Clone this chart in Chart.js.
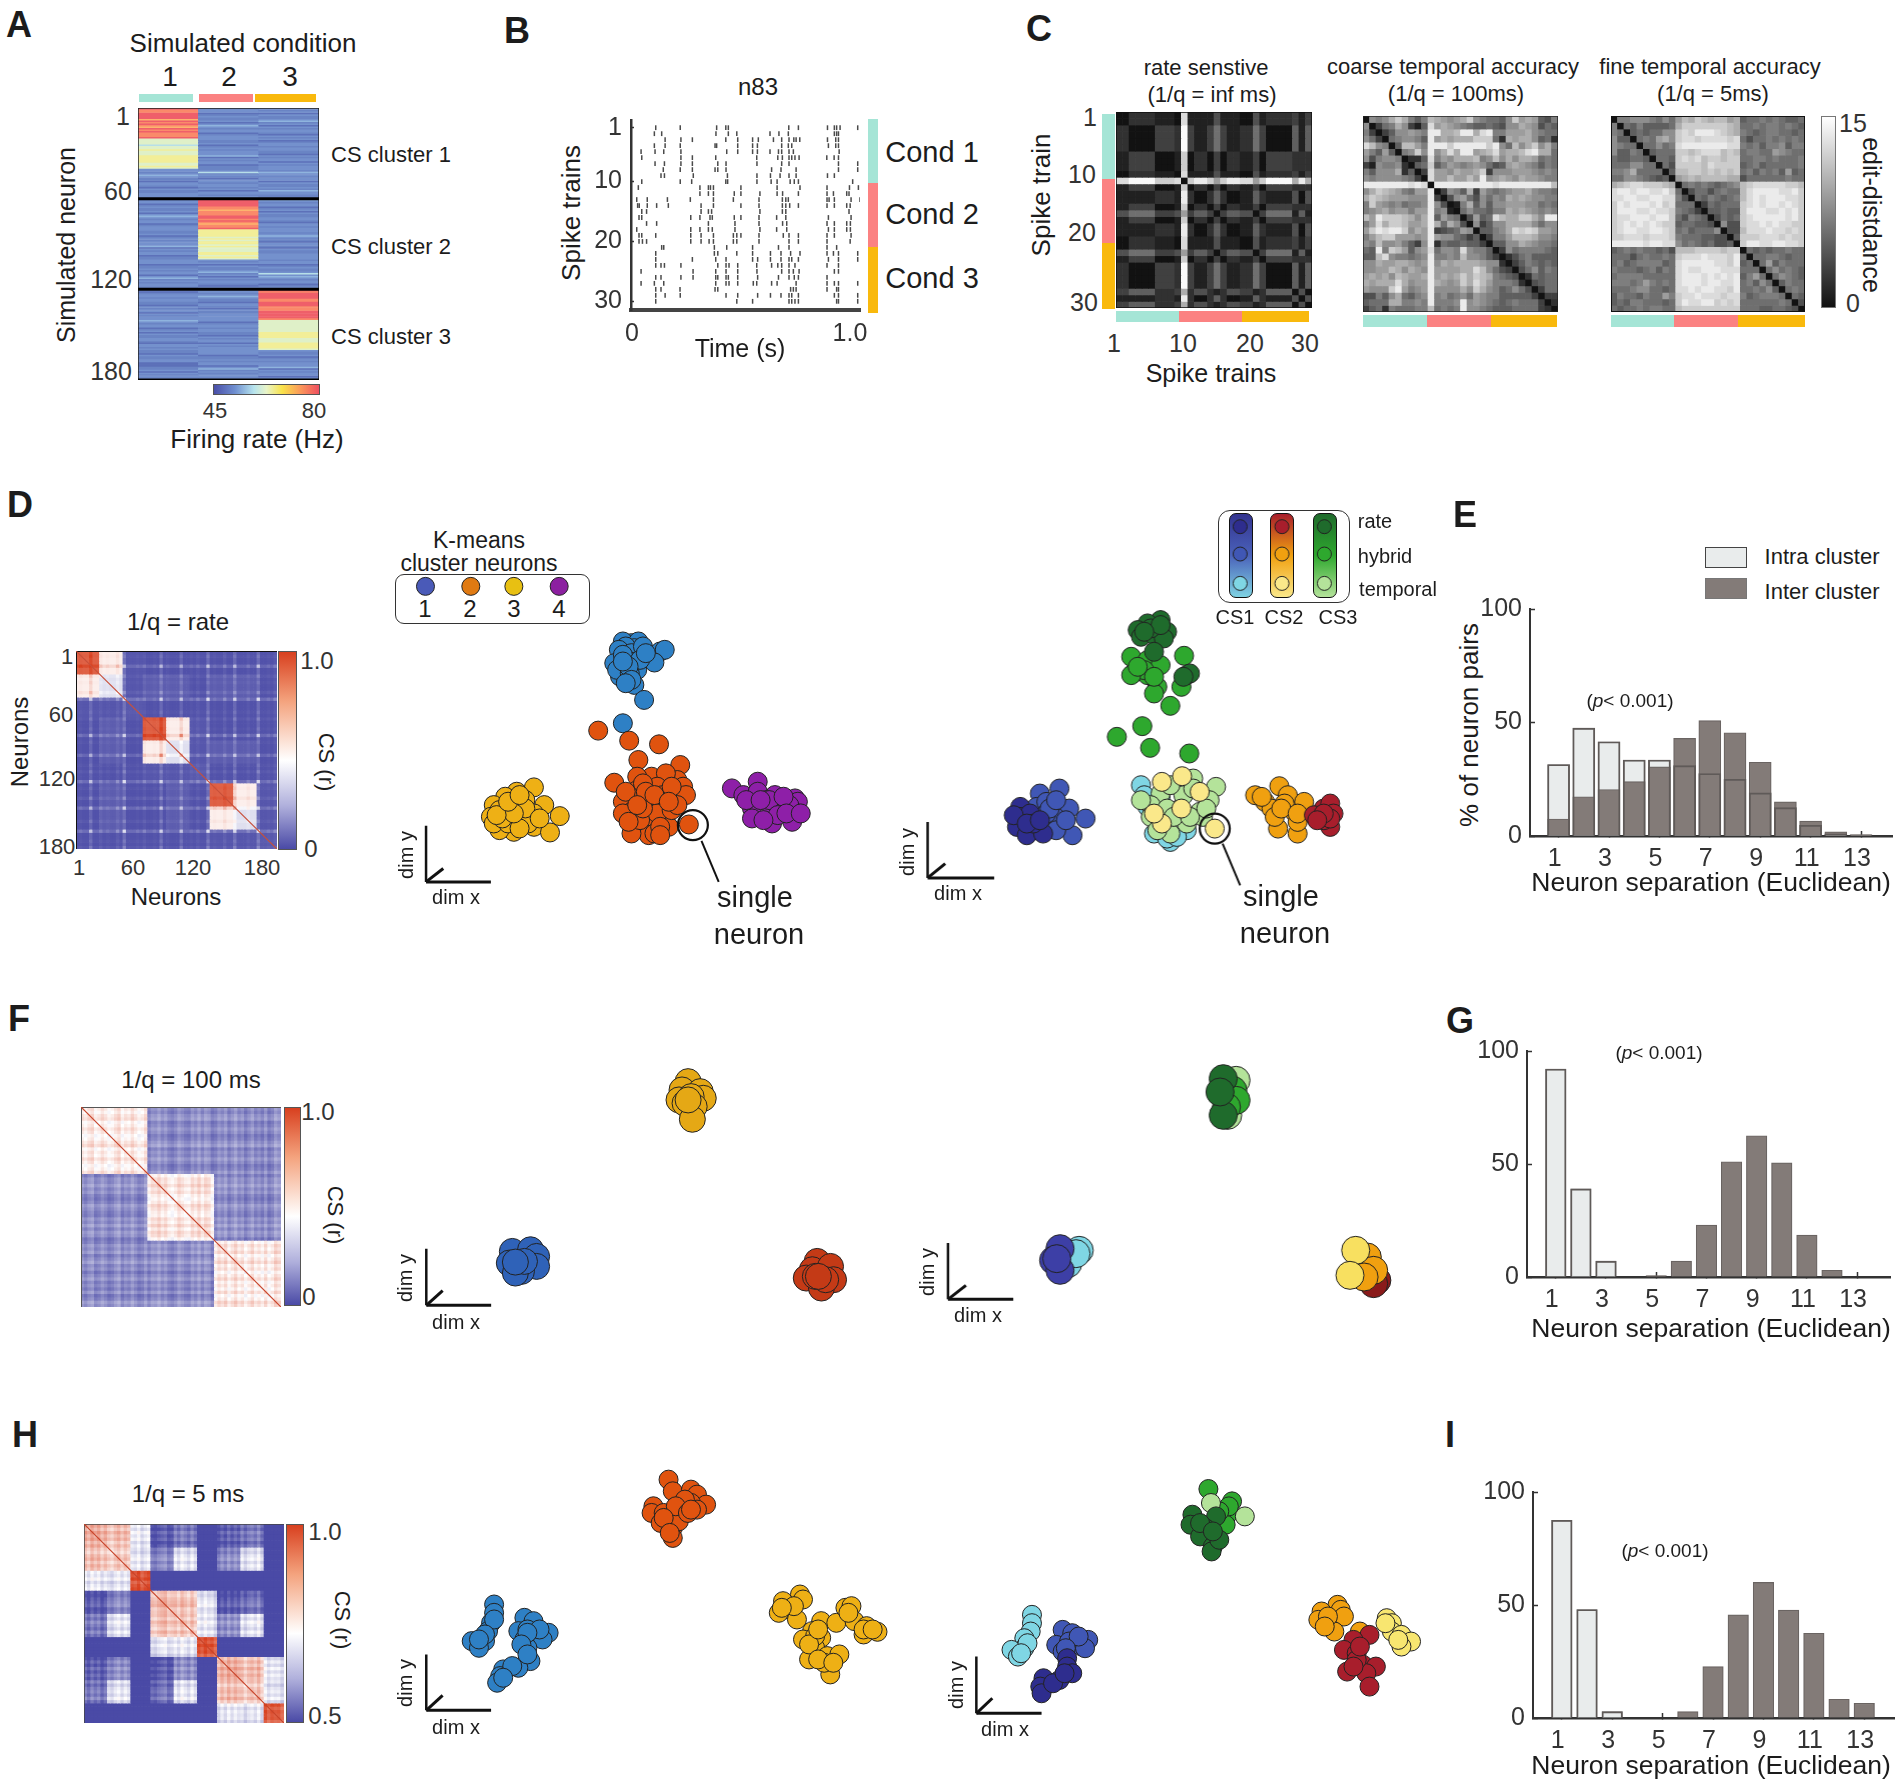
<!DOCTYPE html>
<html>
<head>
<meta charset="utf-8">
<title>Spike train clustering</title>
<script src="https://cdn.jsdelivr.net/npm/chart.js"></script>
<style>
  html, body { margin: 0; background: #fff; }
  #page { position: relative; width: 1902px; height: 1789px; overflow: hidden; font-family: "Liberation Sans", Arial, sans-serif; }
  #page canvas { position: absolute; }
  .lbl { position: absolute; white-space: nowrap; line-height: 1; color: #1c1c1c; }
  .box { position: absolute; box-sizing: border-box; }
</style>
</head>
<body>
<div id="page"></div>
<script>
// tick labels
const neuronTicks = ['1', '60', '120', '180'];
const trainTicks = [1, 10, 20, 30];
const separationTicks = [1, 3, 5, 7, 9, 11, 13];
const pctTicks = [0, 50, 100];
const condColors = ['#a5e5d6', '#fb8282', '#f9b90d'];

// panel A, firing rate level per neuron (0 = low .. 9 = high), one string per condition
const heatPalette = ['#5d71b9', '#6a84c4', '#7491cd', '#8fb4de', '#b7dfe8', '#dff0c8', '#f2ee98', '#fcb46e', '#fa8a6a', '#ef5f6a'];
const heatCond1 = ['98899997989879898889', '55554556555666665565', '22123211022102112222',
  '12201211202321220122', '21120121222302122011', '22201121220231212212',
  '20122122110212202122', '32122012021122102212', '11021122000112021211'].join('');
const heatCond2 = ['12201211202321220122', '21120121222302122011', '12412102212212022122',
  '99999887888998987889', '66666565665655566565', '21202112312021221021',
  '22123211022102112222', '20122122110212202122', '22201121220231212212'].join('');
const heatCond3 = ['21202112312021221021', '20122122110212202122', '21322122021121322112',
  '32122012021122102212', '22123211022102112222', '12201211242321220122',
  '98999988999888999998', '55555555666655566665', '21120121222302122011'].join('');

// panel B, spike times (ms) of neuron n83 for the 30 trains
const spikeTimes = [
  [108,215,374,414,425,689,731,858,888,898,913,990],
  [102,134,371,425,462,607,646,687,888,898,906],
  [149,218,268,414,466,531,556,622,658,690,711,721,737,858,894,906],
  [102,149,215,367,374,466,531,552,658,687,702,862,894,906],
  [44,105,143,218,418,466,531,552,607,644,658,690,709,909],
  [47,218,268,370,549,641,661,690,702,716,734,855,887,906],
  [105,146,218,268,379,415,550,658,690,906,990],
  [141,215,268,367,379,415,614,655,721,906,990],
  [131,146,272,421,550,609,651,690,721,858,888],
  [47,215,265,414,422,550,612,638,695,713,731,968],
  [32,301,338,347,360,480,638,738,856,954,993],
  [301,338,360,451,480,563,638,662,731,856,884,942,952],
  [25,71,159,259,360,447,559,661,676,687,856,865,888,961,1000],
  [29,36,71,112,163,306,360,480,559,661,676,693,731,856,888,942,957],
  [47,68,306,338,352,563,661,676,952],
  [35,47,261,301,345,355,451,480,559,636,676,862,961],
  [68,112,338,454,559,662,680,856,888,942,958],
  [25,261,301,338,355,454,563,636,680,862,888,942,958],
  [35,47,108,261,306,360,447,462,480,559,665,690,731,856,888,961],
  [35,50,68,261,306,341,360,447,462,559,690,731,856,957],
  [134,143,364,418,531,644,690,856,898],
  [108,364,379,462,531,609,655,697,738,856,884,906,990],
  [108,268,370,415,531,553,609,655,690,702,731,862,906,990],
  [108,131,146,218,379,415,428,466,549,614,641,658,690,716,856,906],
  [44,271,370,415,466,550,658,690,709,734,888,906],
  [108,131,218,271,370,379,415,425,466,553,644,690,713,731,856],
  [44,102,143,370,415,428,466,534,549,614,638,721,856,888,906,990],
  [108,131,214,367,379,697,709,721,856,898,906],
  [108,149,215,415,466,553,609,655,690,702,731,888,906,990],
  [108,462,531,690,702,716,731,898,906,990]
];

// panel C, spike count of each train; rate sensitive distance is the count difference
const trainCounts = [2,2,0,0,0,0,3,3,3,2,15,3,1,1,3,6,3,1,1,2,2,6,3,0,0,0,0,5,1,5];
// panel C, edit distance read per cell (hex, 0..15)
const editCoarse = [
  '0878a ca757 ba989 ac876 658c9 a9547',
  '80367 a8315 d9a98 76556 5488a 98465',
  '73035 88987 eeaab eeade 77999 a8766',
  '86306 78875 e9a9a aaccc 62a9a a8562',
  'db870 5bb97 eeece eeeec e86b8 ac8a7',
  '97595 078c8 e8ada ee9ab d9aab deaa6',
  '84788 70225 d798a aab78 b8a8a a9676',
  '31877 82056 c5798 78986 459a9 87576',
  '75888 a2503 d998a 99ac3 88899 98787',
  '87888 87630 d99b9 9b9e8 9a98a 99877',
  'eeeee eeded 0eeee eeeee deeee eeeeb',
  '8acba 97699 e0387 5a397 67899 a8776',
  'acba9 99888 e3048 96486 87a9a 98877',
  '7c987 86778 e8401 7a585 88999 88676',
  '789a8 99799 e7810 68665 77a9a 98787',
  'b9ecc cba8a e5976 04956 dbaac ca8ee',
  '79dac cb99a ea6a8 40835 88aaa a8688',
  '9cede ec8a9 e3456 98055 78adc dc998',
  '79bcc 99989 e9886 53503 779bb ba887',
  '87b88 97538 e2655 65530 5588a 98776',
  '65e7c b9589 d6887 d8775 03867 77765',
  '55bd8 77678 e7787 b8875 30246 75555',
  '88a99 aa989 e8a9a aaa98 82035 76565',
  '8899b a8a98 e9999 aadb8 64304 68576',
  '9a9a8 ba99a e9a9a cacba 76540 26566',
  'a9aaa da899 ea989 cadb9 77762 04566',
  '9888c e9789 e8888 a8ca8 75686 40366',
  '44758 a6578 e7867 86987 75555 53033',
  '5666a a7787 e7778 e8987 65676 66302',
  '35627 66677 b6767 e8876 55566 66320'
];
const editFine = [
  '07788 87686 9bacb abb9a 56676 76556',
  '70657 55556 acccc cccba 66767 76765',
  '76056 56688 cdcee edcba 76567 76656',
  '85506 769a8 cddcd dddcd 64667 67676',
  '87660 66867 deeee eeedd 76757 78577',
  '85576 05666 ccbcd ddbcb 67766 98766',
  '65566 50665 cdcdb ccbcc 66776 76667',
  '66688 66064 ccccb dcccc 56756 66667',
  '778a6 66605 bbccb cbcbc 67576 75956',
  '66887 65450 9abab bbbaa 46666 66766',
  'abcdd cccba 06767 65678 bcddd ddccb',
  'deede eddec 60466 46766 bdeee eddec',
  'ddeed deedd 74065 76567 bdede eeddc',
  'cedee edecd 66603 65666 cdede ededc',
  'ceeed deddc 76530 55655 ceeed dedec',
  'cddee edeec 64765 04656 cdeee eedec',
  'cdede dedcc 56655 40844 cdded eddcc',
  'cdeed deedc 67566 68044 bddde ddcdc',
  'ccddd cdddc 76665 54405 cccdd dcdcc',
  'eeeee deedd 86765 64450 ceedd eeddc',
  '56767 66564 bbbcc ccbcc 06565 66766',
  '66646 76676 cddde dddce 60667 76566',
  '67567 77756 deeee eddce 56069 57666',
  '76665 67576 dedde eeddd 66606 86765',
  '67777 66666 deeed edede 57960 68765',
  '77767 97676 deeed eedde 67586 05766',
  '66678 86656 ddede eddce 66768 50676',
  '57665 76697 cdded ddcdd 75677 76065',
  '56577 66656 cedde ecdcd 66666 67604',
  '65667 67766 bcccc ccccc 66655 66540'
];

// panels D, F, H, correlation level of neuron sub-blocks
const csBlocksD = [
  [.92,.55,.04,.03,.03,.03,.03,.03,.03],
  [.55,.42,.04,.06,.06,.03,.06,.06,.03],
  [.04,.04,.05,.03,.03,.03,.03,.03,.03],
  [.03,.06,.03,.92,.55,.04,.03,.03,.03],
  [.03,.06,.03,.55,.42,.04,.06,.06,.03],
  [.03,.03,.03,.04,.04,.05,.03,.03,.03],
  [.03,.06,.03,.03,.06,.03,.92,.55,.04],
  [.03,.06,.03,.03,.06,.03,.55,.42,.04],
  [.03,.03,.03,.03,.03,.03,.04,.04,.05]
];
const csBlocksF = [
  [.56,.19,.19],
  [.19,.56,.19],
  [.19,.19,.56]
];
const csBlocksH = [
  [.70,.66,.42,.04,.12,0,.04,.12,0],
  [.66,.64,.42,.18,.42,0,.18,.42,0],
  [.42,.42,.93,0,0,0,0,0,0],
  [.04,.18,0,.70,.66,.42,.04,.12,0],
  [.12,.42,0,.66,.64,.42,.18,.42,0],
  [0,0,0,.42,.42,.93,0,0,0],
  [.04,.18,0,.04,.18,0,.70,.66,.42],
  [.12,.42,0,.12,.42,0,.66,.64,.42],
  [0,0,0,0,0,0,.42,.42,.93]
];
// streak strength per 3 neuron bin
const csStreakD = '010070020100309000102001080100070010200901003008000200900102';
const csStreakF = '526813740269153840271659472038521749386027481593604825170396';
const csStreakH = '729481630582736491582046813729518273946017293846057391826450';

// scatter positions, dim x / dim y in arbitrary units
const dRateBlue = [[1100,490],[1085,485],[1112,485],[1105,505],[1090,500],[1078,510],[1100,520],[1120,500],[1150,515],[1158,510],[1140,548],[1070,550],[1098,545],[1110,570],[1080,590],[1105,615],[1122,660],[1075,570],[1085,525],[1115,540],[1097,580],[1095,560],[1085,545],[1125,520],[1100,600],[1090,610],[1085,730]];
const dRateOrange = [[1042,752],[1096,782],[1148,793],[1112,840],[1185,855],[1070,908],[1135,890],[1110,890],[1180,900],[1190,920],[1160,880],[1145,920],[1110,930],[1085,965],[1125,960],[1150,975],[1180,950],[1195,945],[1100,995],[1130,1000],[1160,1010],[1105,1040],[1135,1035],[1165,1040],[1130,1065],[1100,1060],[1085,1000],[1155,945],[1120,910],[1145,1000],[1115,1020],[1170,990],[1140,1060],[1120,985],[1150,1040],[1090,935],[1170,920],[1125,935],[1095,1025],[1180,975],[1150,1065],[1110,975],[1140,945],[1165,965],[1200,1033]];
const dRateYellow = [[930,922],[900,935],[880,950],[860,975],[890,970],[915,960],[948,975],[855,1010],[880,1000],[905,990],[975,1008],[930,1040],[958,1057],[895,1055],[870,1050],[860,1030],[900,1020],[930,1000],[885,1030],[920,1030],[870,990],[875,1015],[905,1045],[915,985],[895,1000],[940,1015],[865,1005],[885,965],[905,945]];
const dRatePurple = [[1275,925],[1320,905],[1295,945],[1320,935],[1350,945],[1385,955],[1390,965],[1335,960],[1360,975],[1310,985],[1345,985],[1380,990],[1310,1015],[1345,1030],[1380,1025],[1340,960],[1375,975],[1300,960],[1355,1005],[1325,960],[1365,950],[1370,1000],[1330,1020],[1395,1000]];

const dCs3Green = [[385,530],[410,540],[430,555],[466,527],[388,580],[410,585],[425,620],[462,620],[420,640],[445,677],[402,738],[363,770],[414,803],[474,820],[405,570],[385,585],[395,560],[420,590]];
const dCs3Dark = [[430,420],[410,430],[395,450],[425,450],[440,455],[400,470],[420,465],[435,475],[420,515],[470,585],[475,580],[465,590],[415,445],[430,435],[405,455]];
const dCs1Navy = [[215,980],[215,1010],[210,1040],[230,1000],[240,1050],[225,1065],[250,1060],[235,1030],[205,1005],[225,1030],[245,1020]];
const dCs1Blue = [[275,925],[245,940],[240,980],[255,965],[290,985],[268,1010],[315,1015],[295,1065],[270,1050],[255,1000],[260,985],[285,1020],[270,960]];
const dTempCyan = [[400,915],[420,1060],[445,1085],[470,1050],[430,950],[460,985],[410,980],[405,945],[440,1075],[455,1070]];
const dTempGreen = [[480,895],[515,920],[430,940],[465,945],[505,960],[415,975],[440,985],[415,1010],[490,995],[430,1030],[470,1030],[445,1060],[495,1010],[445,915],[480,925],[450,1010],[475,1010],[500,985],[425,1050],[400,960]];
const dTempYellow = [[432,905],[463,888],[490,935],[462,985],[432,1030],[420,1000],[513,1045]];
const dCs2Orange = [[575,945],[612,918],[590,965],[625,945],[600,985],[635,995],[610,1045],[640,1060],[650,965],[605,1010],[640,1025],[585,950],[620,970],[615,985],[640,1000]];
const dCs2Red = [[680,985],[675,1010],[690,1040],[665,1005],[690,970],[680,1020],[695,1000],[690,1015],[680,1000],[670,1020]];

const fRateBlue = [[845,755],[875,750],[885,770],[840,790],[885,800],[860,815],[850,820],[865,785],[850,787]];
const fRateYellow = [[1135,245],[1125,270],[1155,275],[1120,300],[1160,295],[1140,290],[1130,310],[1145,320],[1142,358],[1135,300]];
const fRateRed = [[1348,785],[1340,810],[1370,800],[1330,835],[1375,840],[1355,865],[1345,830],[1362,840],[1350,830]];
const fCs3Pale = [[525,240],[512,345]];
const fCs3Mid = [[520,270],[525,300],[510,320]];
const fCs3Dark = [[505,345],[505,235],[500,275]];
const fCs1Cyan = [[280,750],[262,790],[275,760]];
const fCs1Navy = [[250,745],[240,780],[250,810],[245,775]];
const fCs2Red = [[745,840],[740,850]];
const fCs2Orange = [[730,770],[740,810],[725,830]];
const fCs2Pale = [[712,750],[703,825]];

const hRateOrange = [[1103,240],[1110,275],[1140,270],[1150,285],[1165,315],[1078,320],[1075,340],[1095,340],[1090,370],[1110,385],[1140,310],[1125,340],[1110,415],[1150,330],[1120,365],[1130,300],[1115,320],[1135,340],[1095,355],[1105,400],[1140,330]];
const hRateYellow = [[1320,585],[1292,605],[1325,600],[1300,630],[1285,640],[1315,660],[1355,665],[1380,670],[1395,625],[1405,620],[1410,665],[1430,680],[1448,697],[1425,705],[1340,695],[1325,720],[1355,715],[1345,745],[1335,780],[1365,770],[1385,765],[1370,825],[1360,790],[1310,620],[1290,625],[1345,710],[1335,735],[1350,780],[1375,790],[1425,690],[1440,690],[1400,640],[1350,690]];
const hRateBlue = [[815,615],[815,640],[810,670],[805,695],[800,725],[778,725],[790,745],[865,655],[880,665],[855,695],[880,700],[905,700],[895,720],[865,720],[870,745],[875,785],[855,805],[830,810],[825,830],[820,850],[815,660],[800,705],[790,720],[870,690],[890,690],[870,700],[860,735],[870,765],[845,800],[830,835]];
const hCs3Mid = [[483,268],[520,305],[515,340],[510,375],[515,320],[500,335]];
const hCs3Pale = [[487,310],[540,350]];
const hCs3Dark = [[495,350],[458,345],[455,375],[478,385],[470,410],[490,440],[488,455],[500,420],[470,370],[490,395]];
const hCs1Cyan = [[207,645],[207,670],[205,695],[195,715],[195,745],[175,750],[185,770],[200,730],[190,760]];
const hCs1Blue = [[255,690],[270,700],[245,735],[295,720],[285,740],[265,725],[290,745],[255,755],[280,710],[260,745]];
const hCs1Navy = [[262,775],[262,800],[270,820],[250,840],[225,835],[220,860],[222,880],[240,850],[258,820]];
const hCs2Orange = [[685,615],[660,635],[690,630],[655,660],[695,650],[680,695],[720,695],[670,650],[665,680]];
const hCs2Pale = [[762,655],[770,670],[770,695],[785,705],[800,725],[785,740],[780,720],[760,670]];
const hCs2Red = [[735,705],[710,720],[695,750],[715,760],[725,795],[700,815],[745,800],[730,820],[735,860],[715,780],[720,740],[710,800]];

// panels E, G, I, % of neuron pairs per separation bin
const separationBins = [1,2,3,4,5,6,7,8,9,10,11,12,13,14];
const intraE = [31.5,47.5,41.5,33.5,33.5,31,27.5,25,19,12.5,4.7,1,0.3,0];
const interE = [7.5,17.3,20.5,24,30.5,43,50.8,45.5,32.5,15,6.6,1.8,0.6,0];
const intraG = [92,39,7,0,0,0,0,0,0,0,0,0,0,0];
const interG = [0,0,0,0,0.6,7,23,51,62.5,50.5,18.5,3,0,0];
const intraI = [87.5,48,2.8,0,0,0,0,0,0,0,0,0,0,0];
const interI = [0,0,0,0,0,2.8,22.7,45.6,60,47.7,37.5,8.3,6.5,0];

const blue = '#2e80c5', orange = '#e0530f', gold = '#eeb015', purple = '#8e1fa8';
const navy = '#2e2d8e', midBlue = '#4057b5', cyan = '#7fd6e4';
const darkRed = '#a81e2c', amber = '#f0a010', pale = '#fae88a';
const darkGreen = '#1f6b2c', green = '#2ea82e', paleGreen = '#b4e39a';

Chart.defaults.font.family = '"Liberation Sans", Arial, sans-serif';
Chart.defaults.animation = false;
Chart.defaults.events = [];
Chart.defaults.layout.autoPadding = false;
Chart.defaults.plugins.legend.display = false;
Chart.defaults.plugins.tooltip.enabled = false;

const page = document.getElementById('page');

function label(text, x, y, size, opts) {
  opts = opts || {};
  const el = document.createElement('div');
  el.className = 'lbl';
  if (opts.html) el.innerHTML = text; else el.textContent = text;
  el.style.left = x + 'px';
  el.style.top = y + 'px';
  el.style.fontSize = size + 'px';
  if (opts.bold) el.style.fontWeight = 'bold';
  if (opts.color) el.style.color = opts.color;
  el.style.transform = 'translate(-50%,-50%) rotate(' + (opts.rot || 0) + 'deg)';
  page.appendChild(el);
}

function box(x, y, w, h, css) {
  const el = document.createElement('div');
  el.className = 'box';
  el.style.left = x + 'px';
  el.style.top = y + 'px';
  el.style.width = w + 'px';
  el.style.height = h + 'px';
  Object.assign(el.style, css);
  page.appendChild(el);
}

function addCanvas(x, y, w, h) {
  const c = document.createElement('canvas');
  c.width = w;
  c.height = h;
  c.style.left = x + 'px';
  c.style.top = y + 'px';
  c.style.width = w + 'px';
  c.style.height = h + 'px';
  page.appendChild(c);
  return c;
}

// heat map: one stacked bar dataset per row, coloured cell by cell
function heatChart(x, y, w, h, rowColors, overlays) {
  const rows = rowColors.length, cols = rowColors[0].length;
  const datasets = (overlays || []).map(o => ({
    type: 'scatter', xAxisID: 'x2', yAxisID: 'y2', showLine: true, clip: false,
    data: o.pts.map(p => ({ x: p[0], y: p[1] })),
    borderColor: o.color, borderWidth: o.width, pointRadius: 0, order: 0
  }));
  rowColors.forEach(colors => {
    datasets.push({
      type: 'bar', data: colors.map(() => 1), backgroundColor: colors, grouped: false,
      categoryPercentage: 1, barPercentage: 1, borderWidth: 0, order: 1
    });
  });
  new Chart(addCanvas(x, y, w, h), {
    type: 'bar',
    data: { labels: rowColors[0].map((c, i) => i + 1), datasets: datasets },
    options: {
      responsive: false,
      scales: {
        x: { stacked: true, display: false, offset: true },
        y: { stacked: true, display: false, reverse: true, min: 0, max: rows },
        x2: { type: 'linear', axis: 'x', display: false, offset: false, min: 0, max: cols },
        y2: { type: 'linear', axis: 'y', display: false, reverse: true, min: 0, max: rows }
      }
    }
  });
}

function frame(n, m, color, width) {
  return { pts: [[0, 0], [n, 0], [n, m], [0, m], [0, 0]], color: color, width: width };
}

function mix(a, b, t) {
  const pa = [1, 3, 5].map(i => parseInt(a.substr(i, 2), 16));
  const pb = [1, 3, 5].map(i => parseInt(b.substr(i, 2), 16));
  return 'rgb(' + pa.map((v, i) => Math.round(v + (pb[i] - v) * t)).join(',') + ')';
}

function csColor(v) {
  v = Math.max(0, Math.min(1, v));
  return v < 0.5 ? mix('#4a4aa6', '#ffffff', v / 0.5) : mix('#ffffff', '#d8401f', (v - 0.5) / 0.5);
}

function csCells(blocks, streak, kSum, kProd, center) {
  const n = streak.length, rows = [];
  for (let i = 0; i < n; i++) {
    const row = [];
    for (let j = 0; j < n; j++) {
      const b = blocks[Math.floor(i * blocks.length / n)][Math.floor(j * blocks.length / n)];
      const si = +streak[i], sj = +streak[j];
      row.push(csColor(b === 0 ? 0 : b + kSum * (si + sj - center) + kProd * si * sj));
    }
    rows.push(row);
  }
  return rows;
}

function grayCells(rows) {
  return rows.map(r => r.map(L => {
    const g = Math.round(18 + L / 15 * 232);
    return 'rgb(' + g + ',' + g + ',' + g + ')';
  }));
}

function group(points, color, radius) {
  return { data: points.map(p => ({ x: p[0], y: p[1] })), backgroundColor: color, borderColor: '#222', borderWidth: 1, pointRadius: radius, showLine: false };
}
function ring(point, radius) {
  return { data: [{ x: point[0], y: point[1] }], backgroundColor: 'rgba(0,0,0,0)', borderColor: '#111', borderWidth: 2.2, pointRadius: radius, showLine: false, clip: false };
}
function stroke(points, width) {
  return { data: points.map(p => ({ x: p[0], y: p[1] })), borderColor: '#111', borderWidth: width, pointRadius: 0, showLine: true, borderCapStyle: 'butt' };
}

// the scale keeps the units the positions were read in, later groups are on top
function scatterChart(x, y, w, h, xr, yr, sets) {
  sets.forEach((s, i) => { s.order = sets.length - i; });
  new Chart(addCanvas(x, y, w, h), {
    type: 'scatter',
    data: { datasets: sets },
    options: {
      responsive: false,
      scales: {
        x: { type: 'linear', display: false, min: xr[0], max: xr[1] },
        y: { type: 'linear', display: false, reverse: true, min: yr[0], max: yr[1] }
      }
    }
  });
}

function dimAxes(ox, oy, tx, ty, dx, dy) {
  return [stroke([[ox, ty], [ox, oy]], 2.5), stroke([[ox, oy], [tx, oy]], 3), stroke([[ox, oy], [dx, dy]], 3)];
}

function histChart(x, y, w, h, xMin, xMax, barW, intra, inter) {
  const pts = a => a.map((v, i) => ({ x: separationBins[i], y: v }));
  // top and bottom have to hold half a tick label plus its padding or the plot shrinks
  const left = 74, bottom = 40, top = 30, right = 2;
  new Chart(addCanvas(x - left, y - top, w + left + right, h + top + bottom), {
    type: 'bar',
    data: {
      datasets: [
        { label: 'Intra outline', data: pts(intra), backgroundColor: 'rgba(0,0,0,0)', borderColor: '#5f5a58', borderWidth: 1.2, barThickness: barW, grouped: false, order: 1 },
        { label: 'Inter cluster', data: pts(inter), backgroundColor: '#837b78', borderColor: '#6a6462', borderWidth: 1.2, barThickness: barW, grouped: false, order: 2 },
        { label: 'Intra cluster', data: pts(intra), backgroundColor: '#e9ecec', borderColor: '#8f8f8f', borderWidth: 1.5, barThickness: barW, grouped: false, order: 3 }
      ]
    },
    options: {
      responsive: false,
      layout: { padding: { top: top, right: right } },
      scales: {
        x: {
          type: 'linear', offset: false, min: xMin, max: xMax, afterFit: s => { s.height = bottom; },
          afterBuildTicks: s => { s.ticks = separationTicks.map(v => ({ value: v })); },
          ticks: { color: '#333', font: { size: 25 }, padding: 13, labelOffset: -4, maxRotation: 0, autoSkip: false },
          grid: { offset: false, drawOnChartArea: false, tickLength: -5, color: '#333', tickWidth: 1.5 },
          border: { color: '#333', width: 2.5 }
        },
        y: {
          min: 0, max: 100, afterFit: s => { s.width = left; },
          afterBuildTicks: s => { s.ticks = pctTicks.map(v => ({ value: v })); },
          ticks: { color: '#333', font: { size: 25 }, padding: 13 },
          grid: { drawOnChartArea: false, tickLength: -5, color: '#333', tickWidth: 1.5 },
          border: { color: '#333', width: 2 }
        }
      }
    }
  });
}

// ---- panel A
label('A', 19, 25, 36, { bold: true });
label('Simulated condition', 243, 43, 26);
['1', '2', '3'].forEach((t, i) => label(t, [170, 229, 290][i], 77, 28));
box(139, 94, 54, 8, { background: condColors[0] });
box(199, 94, 54, 8, { background: condColors[1] });
box(255, 94, 61, 8, { background: condColors[2] });
const heatRows = [];
for (let i = 0; i < 180; i++) {
  heatRows.push([heatCond1, heatCond2, heatCond3].map(s => heatPalette[+s[i]]));
}
heatChart(138, 108, 181, 272, heatRows, [
  { pts: [[0, 60], [3, 60]], color: '#000', width: 3 },
  { pts: [[0, 120], [3, 120]], color: '#000', width: 3 },
  { pts: [[0, 180], [3, 180]], color: '#000', width: 3 },
  frame(3, 180, '#222', 1.5)
]);
[[123, 116], [118, 191], [111, 279], [111, 371]].forEach((p, i) => label(neuronTicks[i], p[0], p[1], 25, { color: '#333' }));
label('Simulated neuron', 66, 245, 25, { rot: -90 });
label('CS cluster 1', 391, 155, 22);
label('CS cluster 2', 391, 247, 22);
label('CS cluster 3', 391, 337, 22);
box(213, 384, 107, 11, { border: '1.5px solid #555', background: 'linear-gradient(to right,#4a4fa8,#6f8fd0 20%,#b7e4ee 38%,#e8f4c8 50%,#f9e24a 65%,#fb9a5a 82%,#ef4f60)' });
label('45', 215, 411, 22, { color: '#333' });
label('80', 314, 411, 22, { color: '#333' });
label('Firing rate (Hz)', 257, 439, 26);

// ---- panel B
label('B', 517, 31, 36, { bold: true });
label('n83', 758, 87, 24);
label('Spike trains', 571, 213, 26, { rot: -90 });
box(868, 119, 10, 64, { background: condColors[0] });
box(868, 183, 10, 64, { background: condColors[1] });
box(868, 247, 10, 66, { background: condColors[2] });
label('Cond 1', 932, 152, 29);
label('Cond 2', 932, 214, 29);
label('Cond 3', 932, 278, 29);
new Chart(addCanvas(631 - 70, 120 - 30, 229 + 70 + 4, 190 + 30 + 30), {
  type: 'scatter',
  data: {
    datasets: [{
      data: spikeTimes.flatMap((times, i) => times.map(t => ({ x: t / 1000, y: i + 1 }))),
      pointStyle: 'line', rotation: 90, pointRadius: 2.4, borderColor: '#4a4a4a', borderWidth: 1.5
    }]
  },
  options: {
    responsive: false,
    layout: { padding: { top: 30, right: 4 } },
    scales: {
      x: {
        type: 'linear', min: 0, max: 1, afterFit: s => { s.height = 30; },
        ticks: { display: false }, grid: { display: false },
        border: { color: '#444', width: 4 }
      },
      y: {
        type: 'linear', reverse: true, min: -0.286, max: 31.45, afterFit: s => { s.width = 70; },
        afterBuildTicks: s => { s.ticks = trainTicks.map(v => ({ value: v })); },
        ticks: { color: '#333', font: { size: 25 }, padding: 12 },
        grid: { drawOnChartArea: false, tickLength: -3, color: '#333', tickWidth: 1.5 },
        border: { color: '#333', width: 2.5 }
      }
    }
  }
});
label('0', 632, 332, 25, { color: '#333' });
label('1.0', 850, 332, 25, { color: '#333' });
label('Time (s)', 740, 348, 25);

// ---- panel C
label('C', 1039, 29, 36, { bold: true });
label('rate senstive', 1206, 68, 22);
label('(1/q = inf ms)', 1212, 95, 22);
label('coarse temporal accuracy', 1453, 67, 22);
label('(1/q = 100ms)', 1456, 94, 22);
label('fine temporal accuracy', 1710, 67, 22);
label('(1/q = 5ms)', 1713, 94, 22);
const editRate = trainCounts.map(a => trainCounts.map(b => Math.abs(a - b)));
const hexRows = rows => rows.map(s => s.replace(/ /g, '').split('').map(c => parseInt(c, 16)));
box(1102, 114, 13, 65, { background: condColors[0] });
box(1102, 179, 13, 64, { background: condColors[1] });
box(1102, 243, 13, 66, { background: condColors[2] });
heatChart(1116, 112, 196, 196, grayCells(editRate), [frame(30, 30, '#111', 1.5)]);
heatChart(1363, 116, 195, 196, grayCells(hexRows(editCoarse)), [frame(30, 30, '#222', 1.5)]);
heatChart(1611, 116, 194, 196, grayCells(hexRows(editFine)), [frame(30, 30, '#111', 2)]);
[[1116, 311, 1179, 1242, 1309], [1363, 315, 1427, 1491, 1557], [1611, 315, 1674, 1738, 1805]].forEach(b => {
  const bh = b[1] === 311 ? 11 : 12;
  box(b[0], b[1], b[2] - b[0], bh, { background: condColors[0] });
  box(b[2], b[1], b[3] - b[2], bh, { background: condColors[1] });
  box(b[3], b[1], b[4] - b[3], bh, { background: condColors[2] });
});
[[1090, 117], [1082, 174], [1082, 232], [1084, 302]].forEach((p, i) => label(String(trainTicks[i]), p[0], p[1], 25, { color: '#333' }));
[1114, 1183, 1250, 1305].forEach((x, i) => label(String(trainTicks[i]), x, 343, 25, { color: '#333' }));
label('Spike train', 1041, 195, 26, { rot: -90 });
label('Spike trains', 1211, 373, 25);
box(1821, 116, 15, 192, { border: '1px solid #777', background: 'linear-gradient(to bottom,#fff,#111)' });
label('15', 1853, 123, 25, { color: '#333' });
label('0', 1853, 303, 25, { color: '#333' });
label('edit-distdance', 1871, 215, 25, { rot: 90 });

const csGradient = 'linear-gradient(to bottom,#d8401f,#f4a37e 25%,#ffffff 55%,#b0b0dc 78%,#4a4aa6)';

// ---- panel D
label('D', 20, 505, 36, { bold: true });
label('1/q = rate', 178, 622, 24);
heatChart(76, 651, 201, 198, csCells(csBlocksD, csStreakD, 0.008, 0.003, 1), [
  { pts: [[0, 0], [180, 180]], color: '#c8503a', width: 1.2 },
  frame(180, 180, '#111', 2)
]);
box(278, 651, 19, 199, { border: '1px solid #555', background: csGradient });
label('1.0', 317, 661, 24, { color: '#333' });
label('0', 311, 849, 24, { color: '#333' });
label('CS (r)', 326, 762, 22, { rot: 90 });
[[67, 657], [61, 715], [57, 779], [57, 847]].forEach((p, i) => label(neuronTicks[i], p[0], p[1], 22, { color: '#333' }));
[79, 133, 193, 262].forEach((x, i) => label(neuronTicks[i], x, 868, 22, { color: '#333' }));
label('Neurons', 176, 897, 24);
label('Neurons', 20, 742, 24, { rot: -90 });

label('K-means', 479, 540, 23);
label('cluster neurons', 479, 563, 23);
box(395, 574, 195, 50, { border: '1.5px solid #333', borderRadius: '9px' });
[[425, '1'], [470, '2'], [514, '3'], [559, '4']].forEach(d => label(d[1], d[0], 609, 24));
scatterChart(379, 563, 482, 384, [660, 1500], [250, 1400], [
  ...dimAxes(742, 1205, 855, 1037, 772, 1165),
  group(dRateBlue, blue, 9.5),
  group(dRateOrange, orange, 9.5),
  group(dRateYellow, gold, 9.5),
  group(dRatePurple, purple, 9.5),
  group([[741, 320]], '#4a5ab8', 9),
  group([[820, 320]], '#e07a12', 9),
  group([[895, 320]], '#e8c012', 9),
  group([[974, 320]], '#8c20a0', 9),
  stroke([[1222, 1082], [1252, 1205]], 2),
  ring([1207, 1035], 15)
]);
label('dim y', 406, 855, 20, { rot: -90 });
label('dim x', 456, 897, 20);
label('single', 755, 897, 29);
label('neuron', 759, 934, 29);

box(1218, 510, 132, 93, { border: '1.5px solid #333', borderRadius: '12px' });
box(1229, 513, 24, 85, { border: '1.5px solid #111', borderRadius: '7px', background: 'linear-gradient(to bottom,#33338f,#4a62ba 50%,#7fd2e2)' });
box(1270, 513, 24, 85, { border: '1.5px solid #111', borderRadius: '7px', background: 'linear-gradient(to bottom,#a81e2c,#f0a010 50%,#fae88a)' });
box(1313, 513, 24, 85, { border: '1.5px solid #111', borderRadius: '7px', background: 'linear-gradient(to bottom,#1f6b2c,#2ea82e 50%,#b4e39a)' });
scatterChart(880, 500, 534.6, 447, [0, 820], [60, 1400], [
  ...dimAxes(73, 1193, 175, 1025, 100, 1150),
  group(dCs3Green, green, 9.5),
  group(dCs3Dark, darkGreen, 9.5),
  group(dCs1Blue, midBlue, 9.5),
  group(dCs1Navy, navy, 9.5),
  group(dTempCyan, cyan, 9.5),
  group(dTempGreen, paleGreen, 9.5),
  group(dTempYellow, pale, 9.5),
  group(dCs2Orange, amber, 9.5),
  group(dCs2Red, darkRed, 9.5),
  group([[552, 140]], navy, 7), group([[552, 222]], midBlue, 7), group([[552, 310]], cyan, 7),
  group([[616, 140]], darkRed, 7), group([[616, 222]], amber, 7), group([[616, 310]], pale, 7),
  group([[681, 140]], darkGreen, 7), group([[681, 222]], green, 7), group([[681, 310]], paleGreen, 7),
  stroke([[525, 1090], [552, 1215]], 2),
  ring([513, 1045], 15)
]);
label('rate', 1375, 521, 20);
label('hybrid', 1385, 556, 20);
label('temporal', 1398, 589, 20);
label('CS1', 1235, 617, 20);
label('CS2', 1284, 617, 20);
label('CS3', 1338, 617, 20);
label('dim y', 907, 852, 20, { rot: -90 });
label('dim x', 958, 893, 20);
label('single', 1281, 896, 29);
label('neuron', 1285, 933, 29);

// ---- panel E
label('E', 1465, 515, 36, { bold: true });
box(1705, 547, 42, 21, { border: '1.5px solid #444', background: '#e9ecec' });
box(1705, 578, 42, 21, { border: '1.5px solid #777', background: '#837b78' });
label('Intra cluster', 1822, 557, 22);
label('Inter cluster', 1822, 592, 22);
label('% of neuron pairs', 1469, 725, 26, { rot: -90 });
histChart(1530, 609, 362, 227, -0.135, 14.23, 22, intraE, interE);
label('(<i>p</i>&lt; 0.001)', 1630, 700, 19, { html: true });
label('Neuron separation (Euclidean)', 1711, 882, 26.5);

// ---- panel F
label('F', 19, 1019, 36, { bold: true });
label('1/q = 100 ms', 191, 1080, 24);
heatChart(81, 1107, 200, 200, csCells(csBlocksF, csStreakF, 0.012, 0, 9), [
  { pts: [[0, 0], [180, 180]], color: '#c8442a', width: 1.2 },
  frame(180, 180, '#555', 2)
]);
box(284, 1107, 17, 199, { border: '1px solid #555', background: csGradient });
label('1.0', 318, 1112, 24, { color: '#333' });
label('0', 309, 1297, 24, { color: '#333' });
label('CS (r)', 335, 1215, 22, { rot: 90 });
scatterChart(376, 1060, 503, 273, [620, 1450], [180, 1000], [
  ...dimAxes(703, 917, 810, 747, 730, 873),
  group(fRateBlue, '#2f62b8', 13),
  group(fRateYellow, '#e5a815', 13),
  group(fRateRed, '#c43a16', 13)
]);
label('dim y', 405, 1278, 20, { rot: -90 });
label('dim x', 456, 1322, 20);
scatterChart(900, 1057, 511.5, 270, [0, 800], [170, 980], [
  ...dimAxes(75, 897, 177, 728, 103, 855),
  group(fCs3Pale, paleGreen, 14),
  group(fCs3Mid, green, 14),
  group(fCs3Dark, darkGreen, 14),
  group(fCs1Cyan, cyan, 14),
  group(fCs1Navy, '#3d3fa6', 14),
  group(fCs2Red, '#8a1a1a', 14),
  group(fCs2Orange, amber, 14),
  group(fCs2Pale, '#f8e060', 14)
]);
label('dim y', 927, 1272, 20, { rot: -90 });
label('dim x', 978, 1315, 20);

// ---- panel G
label('G', 1460, 1021, 36, { bold: true });
histChart(1527, 1051, 363, 226, -0.146, 14.31, 20.5, intraG, interG);
label('(<i>p</i>&lt; 0.001)', 1659, 1052, 19, { html: true });
label('Neuron separation (Euclidean)', 1711, 1328, 26.5);

// ---- panel H
label('H', 25, 1435, 36, { bold: true });
label('1/q = 5 ms', 188, 1494, 24);
heatChart(84, 1524, 200, 199, csCells(csBlocksH, csStreakH, 0.012, 0, 9), [
  { pts: [[0, 0], [180, 180]], color: '#c8442a', width: 1.2 },
  frame(180, 180, '#444', 1.5)
]);
box(286, 1524, 18, 199, { border: '1px solid #555', background: csGradient });
label('1.0', 325, 1532, 24, { color: '#333' });
label('0.5', 325, 1716, 24, { color: '#333' });
label('CS (r)', 342, 1620, 22, { rot: 90 });
scatterChart(376, 1463, 533, 273, [620, 1500], [190, 1010], [
  ...dimAxes(703, 933, 810, 765, 730, 888),
  group(hRateOrange, orange, 9.5),
  group(hRateYellow, gold, 9.5),
  group(hRateBlue, blue, 9.5)
]);
label('dim y', 405, 1683, 20, { rot: -90 });
label('dim x', 456, 1727, 20);
scatterChart(938.4, 1473, 505, 267, [60, 850], [220, 1020], [
  ...dimAxes(120, 940, 222, 770, 145, 895),
  group(hCs3Mid, green, 9.5),
  group(hCs3Pale, paleGreen, 9.5),
  group(hCs3Dark, darkGreen, 9.5),
  group(hCs1Cyan, cyan, 9.5),
  group(hCs1Blue, midBlue, 9.5),
  group(hCs1Navy, navy, 9.5),
  group(hCs2Orange, amber, 9.5),
  group(hCs2Pale, '#f8e670', 9.5),
  group(hCs2Red, darkRed, 9.5)
]);
label('dim y', 956, 1685, 20, { rot: -90 });
label('dim x', 1005, 1729, 20);

// ---- panel I
label('I', 1450, 1435, 36, { bold: true });
histChart(1533, 1492, 361, 226, -0.143, 14.18, 20.5, intraI, interI);
label('(<i>p</i>&lt; 0.001)', 1665, 1550, 19, { html: true });
label('Neuron separation (Euclidean)', 1711, 1765, 26.5);
</script>
</body>
</html>
